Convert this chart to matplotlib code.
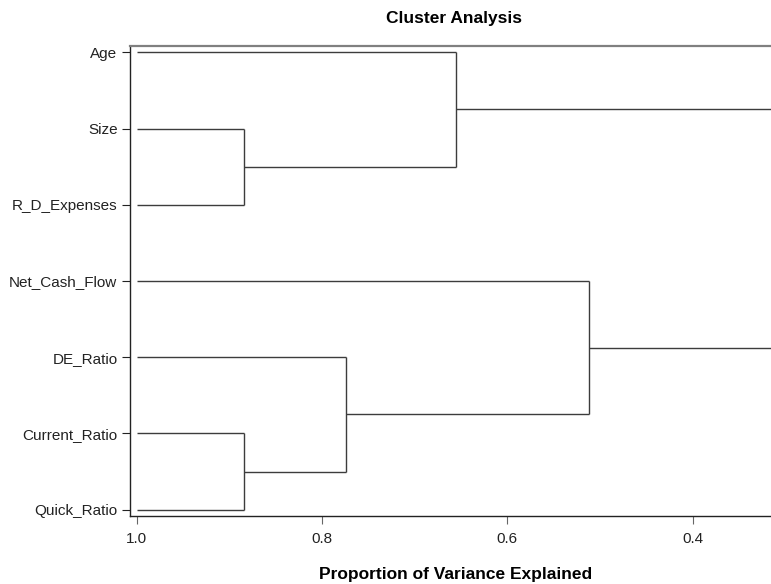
import matplotlib
matplotlib.use("Agg")
import matplotlib.pyplot as plt

# Variables in dendrogram order (top to bottom)
variables = ["Age", "Size", "R_D_Expenses", "Net_Cash_Flow",
             "DE_Ratio", "Current_Ratio", "Quick_Ratio"]

# Cluster joins: (left member, right member, proportion of variance explained)
join_a = ["Size", "Current_Ratio", "DE_Ratio", "Age", "Net_Cash_Flow", "C4"]
join_b = ["R_D_Expenses", "Quick_Ratio", "C2", "C1", "C3", "C5"]
join_height = [0.884, 0.884, 0.774, 0.655, 0.512, 0.30]

x_ticks = [1.0, 0.8, 0.6, 0.4]

plt.rcParams["font.family"] = ["Liberation Sans", "DejaVu Sans"]

fig = plt.figure(figsize=(7.71, 5.84), dpi=100)
ax = fig.add_axes([130 / 771, 1 - 516.3 / 584, 1 - 130 / 771, (516.3 - 45.7) / 584])

line_kw = dict(color="#3c3c3c", lw=1.0, solid_capstyle="butt", clip_on=True)

nodes = {name: (float(i), 1.0) for i, name in enumerate(variables)}
for k, (a, b, h) in enumerate(zip(join_a, join_b, join_height), start=1):
    ya, xa = nodes[a]
    yb, xb = nodes[b]
    ax.plot([xa, h], [ya, ya], **line_kw)
    ax.plot([xb, h], [yb, yb], **line_kw)
    ax.plot([h, h], [ya, yb], **line_kw)
    nodes[f"C{k}"] = ((ya + yb) / 2, h)

ax.set_xlim(1.0072, 0.3154)
ax.set_ylim(len(variables) - 1 + 0.087, -0.087)

ax.set_yticks(range(len(variables)))
ax.set_yticklabels(variables)
ax.set_xticks(x_ticks)
ax.set_xticklabels([f"{t:.1f}" for t in x_ticks])

ax.tick_params(axis="both", direction="out", length=6, width=0.8,
               labelsize=11, colors="#222222", pad=3)
ax.tick_params(axis="x", colors="#666666", labelcolor="#222222", pad=5)

ax.spines["right"].set_visible(False)
ax.spines["top"].set_color("#808080")
ax.spines["top"].set_linewidth(1.6)
ax.spines["left"].set_color("#222222")
ax.spines["bottom"].set_color("#222222")
ax.spines["left"].set_linewidth(1.0)
ax.spines["bottom"].set_linewidth(1.0)

fig.text(454 / 771, 1 - 18 / 584, "Cluster Analysis",
         ha="center", va="center", fontsize=12.5, fontweight="bold")
fig.text(456 / 771, 1 - 574 / 584,
         "Proportion of Variance Explained",
         ha="center", va="center", fontsize=12.5, fontweight="bold")

fig.savefig("out.png", dpi=100)
